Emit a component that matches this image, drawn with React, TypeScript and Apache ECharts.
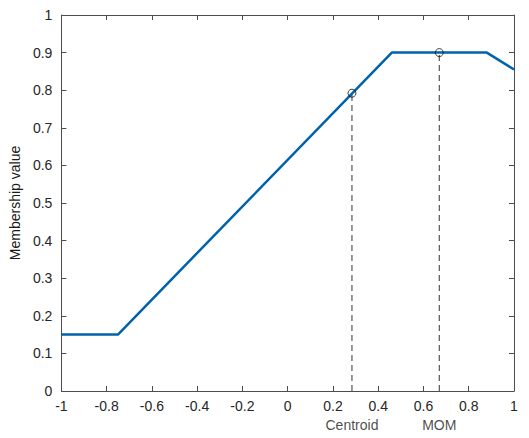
import React, { useEffect, useRef } from "react";
import * as echarts from "echarts";

const membershipX = [-1, -0.75, 0.46, 0.88, 1];
const membershipY = [0.15, 0.15, 0.9, 0.9, 0.855];
const markerNames = ["Centroid", "MOM"];
const markerX = [0.284, 0.67];
const markerY = [0.792, 0.9];

const AXIS_COLOR = "#4d4d4d";
const FONT = "'Liberation Sans', Arial, sans-serif";

export default function App() {
  const ref = useRef<HTMLDivElement>(null);
  useEffect(() => {
    const chart = echarts.init(ref.current!, undefined, { renderer: "svg" });
    const axisCommon = {
      axisLine: { show: true, onZero: false, lineStyle: { color: AXIS_COLOR, width: 1 } },
      axisTick: { show: true, inside: true, length: 5, lineStyle: { color: AXIS_COLOR } },
      splitLine: { show: false },
    };
    const dashedSeries = markerNames.map((name, i) => ({
      type: "line",
      name,
      data: [
        [markerX[i], 0],
        [markerX[i], markerY[i]],
      ],
      symbol: "none",
      lineStyle: { color: "#555555", width: 1.2, type: [6, 4] },
      label: { show: false },
      z: 1,
    }));
    const labelSeries = {
      type: "scatter",
      data: markerNames.map((name, i) => ({ value: [markerX[i], 0], name })),
      symbolSize: 0,
      label: {
        show: true,
        position: "bottom",
        distance: 27,
        formatter: (p: any) => p.name,
        color: "#1a1a1a",
        fontSize: 14,
        fontFamily: FONT,
      },
      silent: true,
    };
    chart.setOption({
      animation: false,
      grid: { left: 54, top: 15, right: 15, bottom: 47, containLabel: false },
      xAxis: [
        {
          type: "value",
          min: -1,
          max: 1,
          interval: 0.2,
          ...axisCommon,
          axisLabel: { color: "#262626", fontSize: 14, fontFamily: FONT, margin: 8 },
        },
        {
          type: "value",
          position: "top",
          min: -1,
          max: 1,
          interval: 0.2,
          ...axisCommon,
          axisLabel: { show: false },
        },
      ],
      yAxis: [
        {
          type: "value",
          min: 0,
          max: 1,
          interval: 0.1,
          ...axisCommon,
          axisLabel: { color: "#262626", fontSize: 14, fontFamily: FONT, margin: 9 },
          name: "Membership value",
          nameLocation: "middle",
          nameGap: 31,
          nameTextStyle: { color: "#1a1a1a", fontSize: 14, fontFamily: FONT },
        },
        {
          type: "value",
          position: "right",
          min: 0,
          max: 1,
          interval: 0.1,
          ...axisCommon,
          axisLabel: { show: false },
        },
      ],
      series: [
        ...dashedSeries,
        {
          type: "line",
          name: "membership",
          data: membershipX.map((x, i) => [x, membershipY[i]]),
          symbol: "none",
          lineStyle: { color: "#0062AD", width: 2.5 },
          z: 3,
        },
        {
          type: "scatter",
          name: "points",
          data: markerX.map((x, i) => [x, markerY[i]]),
          symbol: "circle",
          symbolSize: 8,
          itemStyle: { color: "rgba(0,0,0,0)", borderColor: "#111111", borderWidth: 1 },
          z: 4,
        },
        labelSeries,
      ],
    });
    return () => chart.dispose();
  }, []);
  return <div ref={ref} style={{ width: 529, height: 438, margin: -8, background: "#fff" }} />;
}
